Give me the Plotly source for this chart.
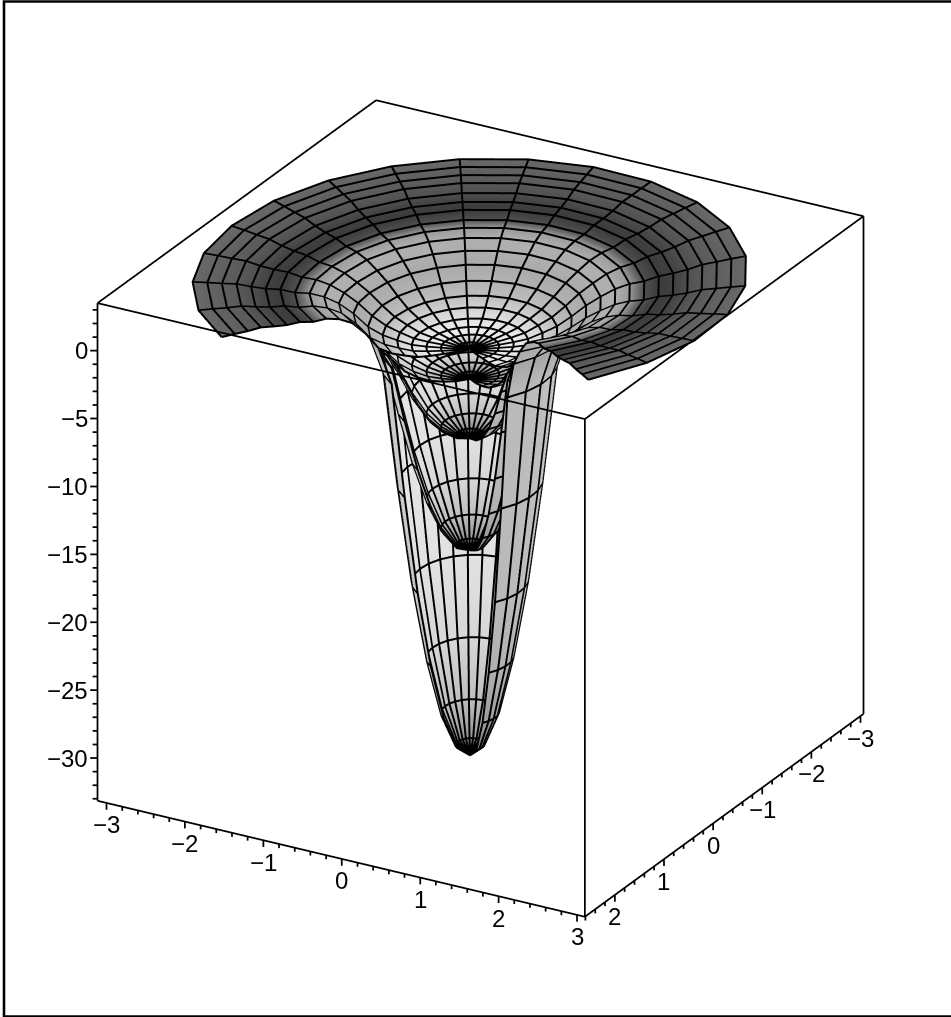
import math
import plotly.graph_objects as go

# ---- data ----
RADII = [0.0, 0.158, 0.316, 0.474, 0.632, 0.789, 0.947, 1.105, 1.263, 1.421,
         1.579, 1.737, 1.895, 2.053, 2.211, 2.368, 2.526, 2.684, 2.842, 3.0]
SPOKES_DEG = [57.3, 71.6, 85.8, 100.1, 114.4, 128.6, 142.9, 157.1, 171.4, 185.7,
              199.9, 214.2, 228.5, 242.7, 257.0, 271.3, 285.5, 299.8, 314.1, 328.6]
SHEET_TOP = [-2.5, -2.45, -2.35, -2.25, -2.1, -1.75, -1.35, -0.72, 0.0, 0.56,
             1.04, 1.32, 1.43, 1.71, 1.83, 2.02, 2.29, 2.41, 2.54, 2.65]
RING_RAISE = [0, 0, 0, 0, 0, 0, 0, 0, 0.6, 1.05, 1.1, 1.1, 1.0, 0.95, 0.85, 0.8, 0.7, 0.55, 0.45, 0.35]
SPOKE_RAISE = [1, 0.75, 0.45, 0.2, 0, 0, 0, 0, 0, 0, 0, 0, 0, 0, 0, 0, 0.2, 0.45, 0.75, 1]
BOWL_2 = [-4.67, -4.6, -4.4, -4.1, -3.6, -2.9, -1.8, -0.72]
BOWL_3 = [-9.06, -8.8, -8.15, -7.15, -5.6, -3.6, -1.8, -0.72]
BOWL_4 = [-17.3, -16.9, -15.6, -13.4, -10.4, -6.6, -2.4, -0.72]
BOWL_5 = [-32.4, -31.6, -29.2, -25.1, -19.5, -12.2, -3.6, -0.72]
SHADE_TOP = [150, 180, 235, 235, 225, 210, 190, 178, 170, 175, 175, 155, 80, 60,
             65, 80, 90, 95, 100, 105]
SHADE_BOWL = [120, 150, 190, 215, 225, 228, 228, 200]
SHADE_SPOKE = [0.82, 0.82, 0.83, 0.84, 0.86, 0.88, 0.92, 1, 1, 1, 1, 1, 1, 1, 1, 1, 1, 0.95, 0.9, 0.88]
X_RANGE = [-3.06, 2.61]
Y_RANGE = [-3.115, 3.10]
Z_RANGE = [-33.15, 3.5]
XY_TICKS = [-3, -2, -1, 0, 1, 2, 3]
Z_TICKS = [0, -5, -10, -15, -20, -25, -30]

FRAME = "#000000"
FONT = "Liberation Sans"
PAD = 0.03
SIZE = 1.104
EYE = (0.789, 0.451, 0.416)
LIFT = 0.003

fig = go.Figure()


def grid(profile, raised=False):
    rs = RADII[:len(profile)]
    xs = [[r * math.cos(math.radians(t)) for t in SPOKES_DEG] for r in rs]
    ys = [[r * math.sin(math.radians(t)) for t in SPOKES_DEG] for r in rs]
    if raised:
        zs = [[z + RING_RAISE[i] * s for s in SPOKE_RAISE] for i, z in enumerate(profile)]
    else:
        zs = [[z for _ in SPOKES_DEG] for z in profile]
    return xs, ys, zs


def lift(values, axis_range, e):
    d = LIFT * e * (axis_range[1] - axis_range[0])
    return [None if v is None else v + d for v in values]


def add_sheet(profile, shade, spoke_factor, raised=False):
    xs, ys, zs = grid(profile, raised)
    col = [[s * f for f in spoke_factor] for s in shade]
    fig.add_trace(go.Surface(x=xs, y=ys, z=zs, surfacecolor=col, cmin=0, cmax=255,
                             colorscale=[[0, "#000000"], [1, "#ffffff"]], showscale=False,
                             lighting=dict(ambient=1, diffuse=0, specular=0, fresnel=0, roughness=1),
                             hoverinfo="skip"))
    lx, ly, lz = [], [], []
    for i in range(1, len(profile)):
        lx += xs[i] + [None]
        ly += ys[i] + [None]
        lz += zs[i] + [None]
    for j in range(len(SPOKES_DEG)):
        lx += [row[j] for row in xs] + [None]
        ly += [row[j] for row in ys] + [None]
        lz += [row[j] for row in zs] + [None]
    fig.add_trace(go.Scatter3d(x=lift(lx, X_RANGE, EYE[0]), y=lift(ly, Y_RANGE, EYE[1]),
                               z=lift(lz, Z_RANGE, EYE[2]), mode="lines",
                               line=dict(color="#000000", width=4), hoverinfo="skip",
                               showlegend=False, connectgaps=False))


add_sheet(SHEET_TOP, SHADE_TOP, [1] * len(SPOKES_DEG), raised=True)
for bowl in (BOWL_2, BOWL_3, BOWL_4, BOWL_5):
    add_sheet(bowl, SHADE_BOWL, SHADE_SPOKE)

x0, x1 = X_RANGE
y0, y1 = Y_RANGE
z0, z1 = Z_RANGE

# box edges (hidden back edges of the floor are left out)
bx, by, bz = [], [], []
for a, b in [((x1, y0, z1), (x1, y1, z1)), ((x1, y1, z1), (x0, y1, z1)),
             ((x0, y1, z1), (x0, y0, z1)), ((x0, y0, z1), (x1, y0, z1)),
             ((x1, y0, z1), (x1, y0, z0)), ((x1, y1, z1), (x1, y1, z0)),
             ((x0, y1, z1), (x0, y1, z0)), ((x1, y0, z0), (x1, y1, z0)),
             ((x1, y1, z0), (x0, y1, z0))]:
    bx += [a[0], b[0], None]
    by += [a[1], b[1], None]
    bz += [a[2], b[2], None]

# tick marks
TZ_MAJOR = 0.5
TZ_MINOR = 0.3
for n in range(-15, 16):
    v = n / 5
    ln = TZ_MAJOR if n % 5 == 0 else TZ_MINOR
    if y0 <= v <= y1:
        bx += [x1, x1, None]
        by += [v, v, None]
        bz += [z0, z0 - ln, None]
    if x0 <= v <= x1:
        bx += [v, v, None]
        by += [y1, y1, None]
        bz += [z0, z0 - ln, None]
for n in range(-33, 4):
    ln = 0.6 if n % 5 == 0 else 0.4
    bx += [x1, x1 + 0.0305 * ln / 0.5, None]
    by += [y0, y0 - 0.0577 * ln / 0.5, None]
    bz += [n, n, None]
fig.add_trace(go.Scatter3d(x=bx, y=by, z=bz, mode="lines",
                           line=dict(color="#000000", width=3.5), hoverinfo="skip",
                           showlegend=False))

# tick labels
ann = []
label = lambda v: (("\u2212" + str(abs(v))) if v < 0 else str(v))
for v in XY_TICKS:
    ann.append(dict(x=x1, y=v, z=z0, text=label(v), showarrow=False, yshift=-22,
                    font=dict(family=FONT, size=24, color="#000000")))
for v in XY_TICKS[:-1]:
    ann.append(dict(x=v, y=y1, z=z0, text=label(v), showarrow=False, yshift=-22,
                    font=dict(family=FONT, size=24, color="#000000")))
for v in Z_TICKS:
    ann.append(dict(x=x1, y=y0, z=v, text=label(v), showarrow=False, xanchor="right", xshift=-8,
                    font=dict(family=FONT, size=24, color="#000000")))

hidden = dict(visible=False, showbackground=False, showgrid=False, zeroline=False,
              showticklabels=False, showline=False, showspikes=False, title="")


def padded(rng):
    span = rng[1] - rng[0]
    return [rng[0] - PAD * span, rng[1] + PAD * span]


k = 4.0
scale = SIZE * (1 + 2 * PAD)
fig.update_layout(
    width=951, height=1017, autosize=False,
    margin=dict(l=0, r=0, t=0, b=0),
    paper_bgcolor="#ffffff", showlegend=False,
    scene=dict(
        domain=dict(x=[0.0105, 1], y=[0, 1]),
        xaxis=dict(range=padded(X_RANGE), **hidden),
        yaxis=dict(range=padded(Y_RANGE), **hidden),
        zaxis=dict(range=padded(Z_RANGE), **hidden),
        aspectmode="manual", aspectratio=dict(x=scale, y=scale, z=0.975 * scale),
        camera=dict(eye=dict(x=EYE[0] * k, y=EYE[1] * k, z=EYE[2] * k), up=dict(x=0, y=0, z=1),
                    center=dict(x=0, y=0, z=0), projection=dict(type="orthographic")),
        annotations=ann,
    ),
    shapes=[dict(type="rect", xref="paper", yref="paper", x0=4 / 951, x1=1.02,
                 y0=0.5 / 1017, y1=1 - 1.5 / 1017, line=dict(color=FRAME, width=2.6))],
)
fig.write_html("out.html", post_script="document.body.style.margin='0';",
               config=dict(displayModeBar=False))
